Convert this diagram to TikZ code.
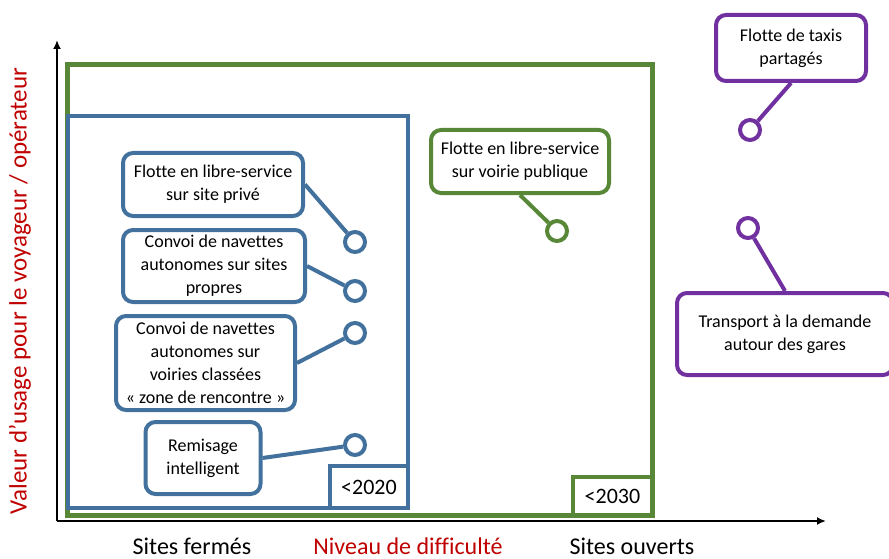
\documentclass[tikz,border=0pt]{standalone}
\usepackage{fontspec}
\setmainfont[Ligatures=CommonOff]{Carlito}
\usetikzlibrary{arrows.meta}
\definecolor{bleu}{RGB}{65,113,156}
\definecolor{vert}{RGB}{88,135,56}
\definecolor{violet}{RGB}{112,48,160}
\definecolor{rouge}{RGB}{192,0,0}
\begin{document}
\begin{tikzpicture}[x=1pt,y=-1pt,
  bulle/.style={draw=#1,rounded corners=10pt,line width=4pt,fill=white,align=center,
    font=\fontsize{18}{23}\selectfont,inner sep=2pt},
  rond/.style={circle,draw=#1,line width=4pt,fill=white,minimum size=20pt,inner sep=0pt},
  lien/.style={draw=#1,line width=4pt},
  annee/.style={draw=#1,line width=4pt,fill=white,font=\fontsize{22}{24}\selectfont,inner sep=0pt},
  axe/.style={line width=2.5pt,-{Latex[length=9pt,width=8pt]}},
  legende/.style={font=\fontsize{24}{28}\selectfont}]
\clip (0,0) rectangle (889,559);
\fill[white] (0,0) rectangle (889,559);
% axes
\coordinate (o) at (57,521);
\coordinate (ymax) at (57,40);
\coordinate (xmax) at (826,521);
\draw[axe] (o) -- (ymax);
\draw[axe] (o) -- (xmax);
% cadres
\draw[vert,line width=5pt] (67,65) rectangle (652,515);
\draw[bleu,line width=4.5pt] (68,116) rectangle (408,508);
\node[annee=bleu,minimum width=78pt,minimum height=42pt] (a2020) at (369,487) {<2020};
\node[annee=vert,minimum width=79pt,minimum height=38pt] (a2030) at (612.5,496) {<2030};
% sites fermes
\node[bulle=bleu,minimum width=180pt,minimum height=63pt] (b1) at (213,184.5) {Flotte en libre-service\\sur site privé};
\node[bulle=bleu,minimum width=182pt,minimum height=72pt] (b2) at (214,266) {Convoi de navettes\\autonomes sur sites\\propres};
\node[bulle=bleu,minimum width=179pt,minimum height=94pt] (b3) at (205.5,363) {Convoi de navettes\\autonomes sur\\voiries classées\\« zone de rencontre »};
\node[bulle=bleu,minimum width=115pt,minimum height=72pt] (b4) at (203,458) {Remisage\\intelligent};
\node[rond=bleu] (c1) at (355,242) {};
\node[rond=bleu] (c2) at (355,291) {};
\node[rond=bleu] (c3) at (355,333) {};
\node[rond=bleu] (c4) at (355,445) {};
\draw[lien=bleu] (b1.east) -- (c1);
\draw[lien=bleu] (b2.east) -- (c2);
\draw[lien=bleu] (b3.east) -- (c3);
\draw[lien=bleu] (b4.east) -- (c4);
% sites ouverts
\node[bulle=vert,minimum width=178pt,minimum height=63pt] (g1) at (520,161.5) {Flotte en libre-service\\sur voirie publique};
\node[rond=vert] (cg1) at (557,231) {};
\draw[lien=vert] (g1.south) -- (cg1);
% hors cadre
\node[bulle=violet,minimum width=150pt,minimum height=66pt] (p1) at (791,48) {Flotte de taxis\\partagés};
\node[bulle=violet,minimum width=216pt,minimum height=82pt] (p2) at (785,334) {Transport à la demande\\autour des gares};
\node[rond=violet] (cp1) at (750,130) {};
\node[rond=violet] (cp2) at (748,228) {};
\draw[lien=violet] (p1.south) -- (cp1);
\draw[lien=violet] (p2.north) -- (cp2);
% legendes
\node[legende] (xg) at (192,546) {Sites fermés};
\node[legende,text=rouge] (xm) at (408,546) {Niveau de difficulté};
\node[legende] (xd) at (632,546) {Sites ouverts};
\node[legende,text=rouge,rotate=90,font=\fontsize{25}{28}\selectfont] (yl) at (20,291) {Valeur d’usage pour le voyageur / opérateur};
\end{tikzpicture}
\end{document}
